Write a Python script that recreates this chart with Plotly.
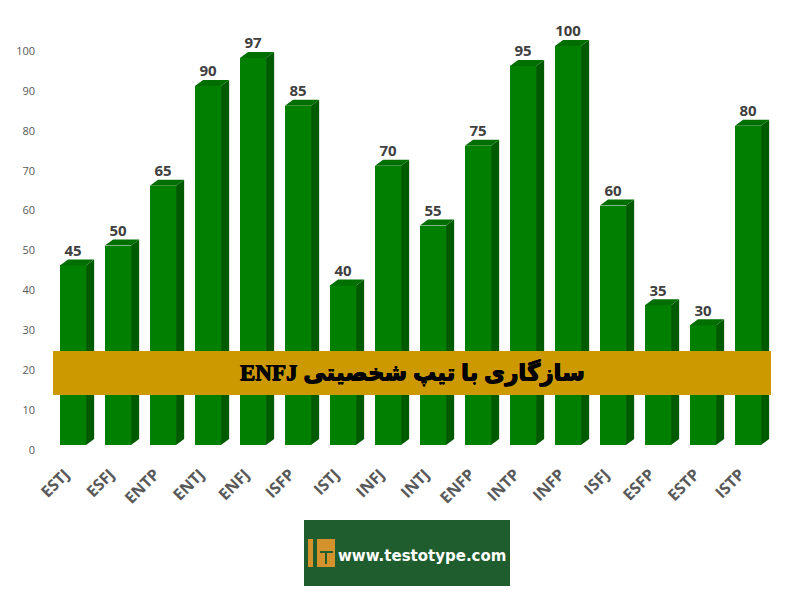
import plotly.graph_objects as go

categories = ["ESTJ", "ESFJ", "ENTP", "ENTJ", "ENFJ", "ISFP", "ISTJ", "INFJ",
              "INTJ", "ENFP", "INTP", "INFP", "ISFJ", "ESFP", "ESTP", "ISTP"]
values = [45, 50, 65, 90, 97, 85, 40, 70, 55, 75, 95, 100, 60, 35, 30, 80]
y_ticks = list(range(0, 101, 10))
banner_text = "سازگاری با تیپ شخصیتی ENFJ"
logo_text = "www.testotype.com"

PAGE = 8  # default page margin around the figure
W, H = 800 - 2 * PAGE, 599 - 2 * PAGE
ML, MR, MT, MB = 32, 12, 12, 146
HALF = 0.29      # half of front face width, category units
DX, DY = 0.18, 1.5  # 3D depth offsets in axis units
idx = list(range(len(categories)))
FIRST = 73 - PAGE  # pixel of the first category

side_x, side_y, top_x, top_y = [], [], [], []
for i, v in zip(idx, values):
    r = i + HALF
    l = i - HALF
    side_x += [r, r + DX, r + DX, r, r, None]
    side_y += [0, DY, v + DY, v, 0, None]
    top_x += [l, l + DX, r + DX, r, l, None]
    top_y += [v, v + DY, v + DY, v, v, None]

fig = go.Figure()
fig.add_trace(go.Scatter(x=side_x, y=side_y, mode="lines", fill="toself", fillcolor="#005A00",
                         line=dict(width=0, color="#005A00"), hoverinfo="skip", showlegend=False))
fig.add_trace(go.Scatter(x=top_x, y=top_y, mode="lines", fill="toself", fillcolor="#006E00",
                         line=dict(width=0, color="#006E00"), hoverinfo="skip", showlegend=False))
fig.add_trace(go.Bar(x=idx, y=values, width=2 * HALF, marker=dict(color="#007F00", line=dict(width=0)),
                     showlegend=False))
fig.add_trace(go.Scatter(x=idx, y=[v + DY for v in values], mode="text", text=[str(v) for v in values],
                         textposition="top center", cliponaxis=False,
                         textfont=dict(family="Open Sans", size=15, color="#404040", weight="bold"),
                         hoverinfo="skip", showlegend=False))


def rect(x0, y0, x1, y1, color):
    """Rectangle given in page pixels."""
    pw, ph = W - ML - MR, H - MT - MB
    return dict(type="rect", xref="paper", yref="paper", layer="above",
                x0=(x0 - PAGE - ML) / pw, x1=(x1 - PAGE - ML) / pw,
                y0=(H - MB - (y1 - PAGE)) / ph, y1=(H - MB - (y0 - PAGE)) / ph,
                fillcolor=color, line=dict(width=0))


def note(x, y, text, size, color, family, shadow="none"):
    pw, ph = W - ML - MR, H - MT - MB
    return dict(xref="paper", yref="paper", showarrow=False, text=text,
                x=(x - PAGE - ML) / pw, y=(H - MB - (y - PAGE)) / ph,
                xanchor="center", yanchor="middle",
                font=dict(size=size, color=color, family=family, weight="bold", shadow=shadow))


fig.update_layout(
    width=W, height=H, autosize=False,
    margin=dict(l=ML, r=MR, t=MT, b=MB),
    paper_bgcolor="white", plot_bgcolor="white",
    bargap=0, showlegend=False,
    xaxis=dict(range=[(ML - FIRST) / 45, (W - MR - FIRST) / 45], tickmode="array", tickvals=idx,
               ticktext=categories, tickangle=-45, showgrid=False, zeroline=False, showline=False,
               ticks="", ticklabelstandoff=16, ticklabelshift=-8, automargin=False,
               tickfont=dict(family="Open Sans", size=16, color="#595959", weight="bold")),
    yaxis=dict(range=[0, (H - MB - MT) / 3.99], tickmode="array", tickvals=y_ticks,
               showgrid=False, zeroline=False, showline=False, ticks="", ticklabelshift=5,
               ticklabelstandoff=4, automargin=False,
               tickfont=dict(family="Open Sans", size=11, color="#595959")),
    shapes=[
        rect(53, 351, 771, 395, "#CC9900"),
        rect(304, 520, 510, 586, "#1F5C2E"),
        rect(308, 539, 313, 567, "#D3922B"),
        rect(317, 539, 335, 567, "#D3922B"),
        rect(320, 551, 333, 553, "#1F5C2E"),
        rect(325, 553, 327, 564, "#1F5C2E"),
    ],
    annotations=[
        note(413, 372, "\u202b" + banner_text + "\u202c", 23, "black", "Liberation Serif, DejaVu Sans",
             shadow="0.5px 0 0 black, -0.5px 0 0 black, 0 0.5px 0 black"),
        note(422, 556, logo_text, 15, "white", "DejaVu Sans"),
    ],
)
fig.write_html("out.html")
